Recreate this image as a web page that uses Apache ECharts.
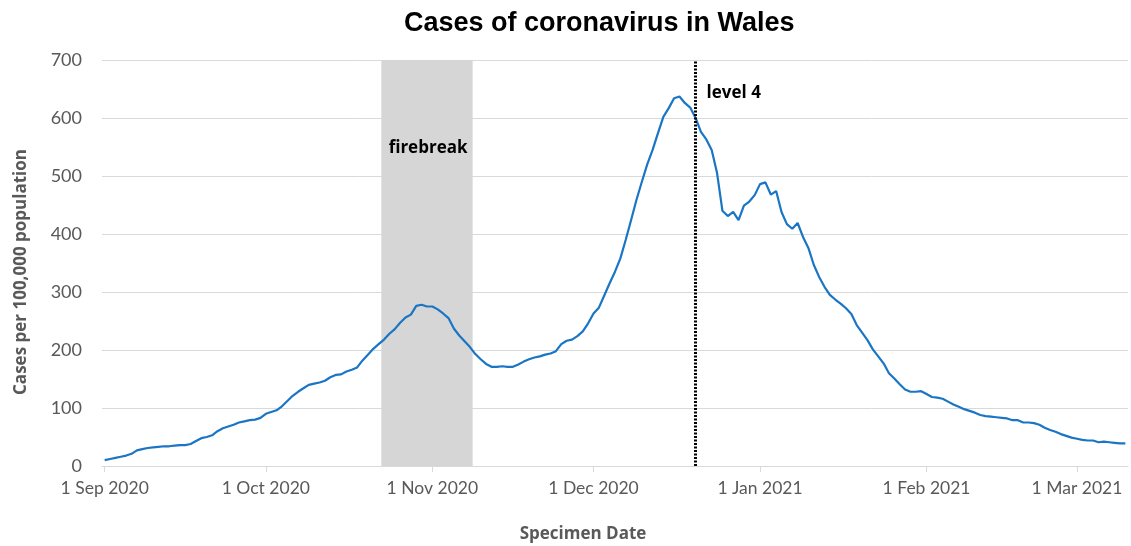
<!DOCTYPE html>
<html>
<head>
<meta charset="utf-8">
<script src="https://cdn.jsdelivr.net/npm/echarts@6/dist/echarts.min.js"></script>
<style>
  html, body { margin: 0; padding: 0; background: #fff; }
  #chart { width: 1131px; height: 546px; }
</style>
</head>
<body>
<div id="chart"></div>
<script>
// daily rate per 100,000, 1 Sep 2020 -> 10 Mar 2021 (index = days since 1 Sep)
const cases = [
  10, 12, 14, 16, 18, 21, 27, 29, 31, 32,
  33, 34, 34, 35, 36, 36, 38, 43, 48, 50,
  53, 60, 65, 68, 71, 75, 77, 79, 80, 83,
  90, 93, 96, 103, 112, 121, 128, 134, 140, 142,
  144, 147, 153, 157, 158, 163, 166, 170, 182, 192,
  202, 210, 218, 228, 236, 247, 256, 261, 276, 278,
  275, 275, 270, 263, 255, 237, 225, 215, 205, 193,
  184, 176, 171, 171, 172, 171, 171, 175, 180, 184,
  187, 189, 192, 194, 198, 210, 216, 218, 224, 232,
  246, 263, 273, 294, 315, 335, 358, 390, 424, 459,
  490, 520, 545, 574, 602, 617, 634, 637, 626, 618,
  600, 576, 563, 545, 505, 440, 431, 438, 424, 449,
  456, 467, 486, 489, 468, 474, 438, 417, 409, 419,
  395, 376, 347, 326, 309, 295, 287, 280, 272, 262,
  243, 230, 217, 201, 189, 177, 160, 151, 141, 132,
  128, 128, 129, 124, 119, 118, 116, 111, 106, 102,
  98, 95, 92, 88, 86, 85, 84, 83, 82, 79,
  79, 75, 75, 74, 71, 66, 62, 59, 55, 52,
  49, 47, 45, 44, 44, 41, 42, 41, 40, 39,
  39
];

// x tick positions (days since 1 Sep 2020) and their labels
const monthStarts = [0, 30, 61, 91, 122, 153, 181];
const monthLabels = ['1 Sep 2020', '1 Oct 2020', '1 Nov 2020', '1 Dec 2020', '1 Jan 2021', '1 Feb 2021', '1 Mar 2021'];

// firebreak 23 Oct - 8 Nov, level 4 from 20 Dec
const firebreak = [51.5, 68.5];
const level4Day = 110;

const chart = echarts.init(document.getElementById('chart'));

const option = {
  animation: false,
  title: {
    text: 'Cases of coronavirus in Wales',
    left: 399,
    top: 5,
    textStyle: { fontFamily: 'Liberation Sans', fontSize: 27, fontWeight: 'bold', color: '#000' }
  },
  grid: { left: 102, right: 3, top: 60, bottom: 80, outerBoundsMode: 'none' },
  xAxis: {
    type: 'value',
    min: -0.5,
    max: 190.5,
    name: 'Specimen Date',
    nameLocation: 'middle',
    nameGap: 60,
    nameTextStyle: { fontFamily: 'Open Sans', fontSize: 17, fontWeight: 'bold', color: '#595959', padding: [0, 64, 0, 0] },
    axisLine: { lineStyle: { color: '#d9d9d9', width: 1 } },
    axisTick: { customValues: monthStarts, length: 6, lineStyle: { color: '#d9d9d9' } },
    axisLabel: {
      customValues: monthStarts,
      margin: 13,
      fontFamily: 'Lato',
      fontSize: 17.5,
      color: '#595959',
      formatter: v => monthLabels[monthStarts.indexOf(v)] || ''
    },
    splitLine: { show: false }
  },
  yAxis: {
    type: 'value',
    min: 0,
    max: 700,
    interval: 100,
    name: 'Cases per 100,000 population',
    nameLocation: 'middle',
    nameGap: 72,
    nameTextStyle: { fontFamily: 'Open Sans', fontSize: 17, fontWeight: 'bold', color: '#595959', padding: [0, 18, 0, 0] },
    axisLine: { show: false },
    axisTick: { show: false },
    axisLabel: { margin: 20, fontFamily: 'Lato', fontSize: 18, color: '#595959' },
    splitLine: { lineStyle: { color: '#d9d9d9', width: 1 } }
  },
  series: [
    {
      type: 'line',
      data: cases.map((v, i) => [i, v]),
      showSymbol: false,
      lineStyle: { color: '#1a75c4', width: 2.2 },
      itemStyle: { color: '#1a75c4' },
      z: 3,
      markArea: {
        silent: true,
        itemStyle: { color: '#d6d6d6' },
        data: [[{ xAxis: firebreak[0] }, { xAxis: firebreak[1] }]]
      },
      markLine: {
        silent: true,
        symbol: ['none', 'none'],
        label: { show: false },
        lineStyle: { color: '#000', width: 3, type: [2, 1.5] },
        data: [{ xAxis: level4Day }]
      },
      markPoint: {
        silent: true,
        symbolSize: 0,
        label: {
          show: true,
          fontFamily: 'Open Sans',
          fontSize: 17,
          fontWeight: 'bold',
          color: '#000'
        },
        data: [
          { coord: [60.2, 548], value: 'firebreak', label: { position: 'inside', formatter: 'firebreak' } },
          { coord: [level4Day, 643], value: 'level 4', label: { position: 'right', distance: 11, formatter: 'level 4' } }
        ]
      }
    }
  ]
};

chart.setOption(option);
</script>
</body>
</html>
